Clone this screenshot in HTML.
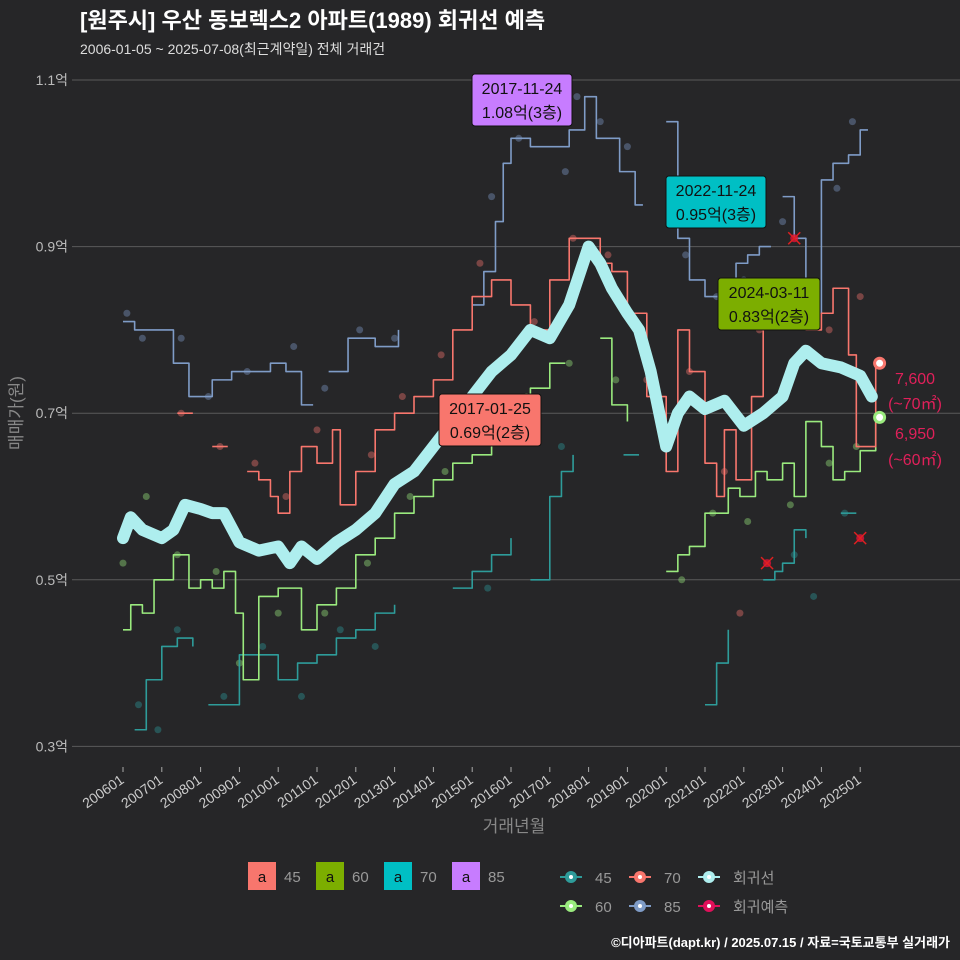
<!DOCTYPE html>
<html><head><meta charset="utf-8"><style>
body{margin:0;background:#262628;}
svg{display:block;font-family:"Liberation Sans","Noto Sans CJK KR",sans-serif;}
</style></head><body>
<svg id="c" width="960" height="960" viewBox="0 0 960 960">
<rect width="960" height="960" fill="#262628"/>
<text x="80" y="28" font-size="22" font-weight="bold" fill="#fff">[원주시] 우산 동보렉스2 아파트(1989) 회귀선 예측</text>
<text x="80" y="54" font-size="14" fill="#ddd">2006-01-05 ~ 2025-07-08(최근계약일) 전체 거래건</text>
<g id="grid"></g><g id="marks"></g><g id="ann"></g>
<text x="22" y="413" font-size="17" fill="#888" transform="rotate(-90 22 413)" text-anchor="middle">매매가(원)</text>
<text x="514" y="832" font-size="17" fill="#888" text-anchor="middle">거래년월</text>
<g id="legend"></g>
<text x="950" y="947" font-size="13" font-weight="bold" fill="#fff" text-anchor="end">©디아파트(dapt.kr) / 2025.07.15 / 자료=국토교통부 실거래가</text>
</svg>
<script>
const yTicks=[1.1,0.9,0.7,0.5,0.3];
const yTickLabels=["1.1억","0.9억","0.7억","0.5억","0.3억"];
const xTicks=[2006,2007,2008,2009,2010,2011,2012,2013,2014,2015,2016,2017,2018,2019,2020,2021,2022,2023,2024,2025];
const xTickLabels=["200601","200701","200801","200901","201001","201101","201201","201301","201401","201501","201601","201701","201801","201901","202001","202101","202201","202301","202401","202501"];
const regT=[2006.0,2006.2,2006.5,2007.0,2007.3,2007.6,2008.0,2008.3,2008.6,2009.0,2009.5,2010.0,2010.3,2010.6,2011.0,2011.5,2012.0,2012.5,2013.0,2013.5,2014.0,2014.5,2015.0,2015.5,2016.0,2016.5,2017.0,2017.5,2018.0,2018.3,2018.6,2019.0,2019.3,2019.6,2020.0,2020.3,2020.6,2021.0,2021.5,2022.0,2022.5,2023.0,2023.3,2023.6,2024.0,2024.5,2025.0,2025.3];
const regV=[0.55,0.575,0.56,0.55,0.56,0.59,0.585,0.58,0.58,0.545,0.535,0.54,0.52,0.54,0.525,0.545,0.56,0.58,0.615,0.63,0.66,0.69,0.72,0.75,0.77,0.80,0.79,0.83,0.90,0.88,0.85,0.82,0.80,0.75,0.66,0.70,0.72,0.705,0.715,0.685,0.70,0.72,0.76,0.775,0.76,0.755,0.745,0.72];
const s85=[[[2006.0,0.81],[2006.3,0.80],[2007.0,0.80],[2007.3,0.76],[2007.7,0.72],[2008.3,0.74],[2008.8,0.75],[2009.3,0.75],[2009.8,0.76],[2010.2,0.75],[2010.6,0.71],[2010.9,0.71]],[[2011.3,0.75],[2011.8,0.79],[2012.5,0.78],[2013.1,0.80]],[[2015.0,0.83],[2015.3,0.87],[2015.6,0.93],[2015.8,1.00],[2016.0,1.03],[2016.5,1.02],[2017.0,1.02],[2017.5,1.04],[2017.9,1.08],[2018.2,1.03],[2018.5,1.03],[2018.8,0.99],[2019.2,0.95],[2019.4,0.95]],[[2020.0,1.05],[2020.3,0.91],[2020.6,0.86],[2021.0,0.84],[2021.4,0.86],[2021.8,0.88],[2022.1,0.89],[2022.4,0.90],[2022.7,0.90]],[[2023.0,0.96],[2023.3,0.91],[2023.6,0.82],[2024.0,0.98],[2024.3,1.00],[2024.7,1.01],[2025.0,1.04],[2025.2,1.04]]];
const s70=[[[2007.4,0.70],[2007.8,0.70]],[[2008.3,0.66],[2008.7,0.66]],[[2009.2,0.63],[2009.5,0.62],[2009.8,0.60],[2010.0,0.58],[2010.3,0.63],[2010.6,0.66],[2011.0,0.64],[2011.4,0.68],[2011.6,0.59],[2012.0,0.63],[2012.5,0.68],[2013.0,0.70],[2013.5,0.72],[2014.0,0.74],[2014.5,0.80],[2015.0,0.84],[2015.5,0.86],[2016.0,0.83],[2016.5,0.80],[2017.0,0.86],[2017.5,0.91],[2018.0,0.91],[2018.3,0.88],[2018.6,0.87],[2019.0,0.82],[2019.5,0.72],[2020.0,0.63],[2020.3,0.80],[2020.6,0.75],[2021.0,0.64],[2021.3,0.60],[2021.5,0.68],[2021.8,0.62],[2022.2,0.72],[2022.5,0.82],[2022.8,0.85],[2023.0,0.83],[2023.3,0.85],[2023.6,0.80],[2024.0,0.82],[2024.3,0.85],[2024.5,0.85],[2024.7,0.77],[2024.9,0.66],[2025.2,0.66],[2025.4,0.76]]];
const s60=[[[2006.0,0.44],[2006.2,0.47],[2006.5,0.46],[2006.8,0.50],[2007.3,0.53],[2007.7,0.49],[2008.0,0.50],[2008.3,0.49],[2008.6,0.51],[2008.9,0.46],[2009.1,0.38],[2009.5,0.48],[2010.0,0.49],[2010.6,0.44],[2011.0,0.47],[2011.5,0.49],[2012.0,0.53],[2012.5,0.55],[2013.0,0.58],[2013.5,0.60],[2014.0,0.62],[2014.5,0.64],[2015.0,0.65],[2015.5,0.68],[2016.0,0.70],[2016.5,0.73],[2017.0,0.76],[2017.4,0.76]],[[2018.3,0.79],[2018.6,0.71],[2019.0,0.69]],[[2020.0,0.51],[2020.3,0.53],[2020.6,0.54],[2021.0,0.58],[2021.3,0.58],[2021.6,0.61],[2021.9,0.60],[2022.3,0.63],[2022.6,0.62],[2023.0,0.64],[2023.3,0.60],[2023.6,0.69],[2024.0,0.66],[2024.3,0.62],[2024.6,0.63],[2025.0,0.655],[2025.4,0.695]]];
const s45=[[[2006.3,0.32],[2006.6,0.38],[2007.0,0.42],[2007.4,0.43],[2007.8,0.42]],[[2008.2,0.35],[2008.6,0.35],[2009.0,0.41],[2009.5,0.41],[2010.0,0.38],[2010.5,0.40],[2011.0,0.41],[2011.5,0.43],[2012.0,0.44],[2012.5,0.46],[2013.0,0.47]],[[2014.5,0.49],[2015.0,0.51],[2015.5,0.53],[2016.0,0.55]],[[2016.5,0.50],[2017.0,0.60],[2017.3,0.63],[2017.6,0.65]],[[2018.9,0.65],[2019.3,0.65]],[[2021.0,0.35],[2021.3,0.40],[2021.6,0.44]],[[2022.5,0.50],[2022.8,0.51],[2023.0,0.52],[2023.3,0.56],[2023.6,0.55]],[[2024.5,0.58],[2024.9,0.58]]];
const dots85=[[2006.1,0.82],[2006.5,0.79],[2007.5,0.79],[2008.2,0.72],[2009.2,0.75],[2010.4,0.78],[2011.2,0.73],[2012.1,0.80],[2013.0,0.79],[2015.5,0.96],[2016.2,1.03],[2017.4,0.99],[2017.7,1.08],[2018.3,1.05],[2019.0,1.02],[2020.5,0.89],[2021.3,0.84],[2022.0,0.86],[2023.0,0.93],[2024.4,0.97],[2024.8,1.05]];
const dots70=[[2007.5,0.70],[2008.5,0.66],[2009.4,0.64],[2010.2,0.60],[2011.0,0.68],[2012.4,0.65],[2013.2,0.72],[2014.2,0.77],[2015.2,0.88],[2016.6,0.81],[2017.6,0.91],[2018.5,0.89],[2019.5,0.74],[2020.6,0.75],[2021.5,0.63],[2022.4,0.80],[2023.4,0.85],[2024.2,0.80],[2025.0,0.84],[2021.9,0.46]];
const dots60=[[2006.0,0.52],[2006.6,0.60],[2007.4,0.53],[2008.4,0.51],[2009.0,0.40],[2010.0,0.46],[2011.2,0.46],[2012.3,0.52],[2013.4,0.60],[2014.3,0.63],[2015.3,0.67],[2016.4,0.72],[2017.5,0.76],[2018.7,0.74],[2020.4,0.50],[2021.2,0.58],[2022.1,0.57],[2023.2,0.59],[2024.2,0.64],[2024.9,0.66]];
const dots45=[[2006.4,0.35],[2006.9,0.32],[2007.4,0.44],[2008.6,0.36],[2009.6,0.42],[2010.6,0.36],[2011.6,0.44],[2012.5,0.42],[2015.4,0.49],[2017.3,0.66],[2023.3,0.53],[2023.8,0.48],[2024.6,0.58]];
const pred=[[2022.6,0.52],[2023.3,0.91],[2025.0,0.55]];
const ends=[[2025.5,0.76,"#F8766D"],[2025.5,0.695,"#9AEA7E"]];
const X=t=>123+(t-2006)*38.8, Y=v=>80+(1.1-v)*833;
const NS="http://www.w3.org/2000/svg";
function mk(p,tag,a){const e=document.createElementNS(NS,tag);for(const k in a)e.setAttribute(k,a[k]);p.appendChild(e);return e;}
const G=document.getElementById('grid'),M=document.getElementById('marks'),A=document.getElementById('ann'),L=document.getElementById('legend');
yTicks.forEach((v,i)=>{const l=mk(G,'line',{x1:72,x2:960,y1:Y(v),y2:Y(v),stroke:'#5a5a5a','stroke-width':1});


const t=mk(G,'text',{x:68,y:Y(v)+5,'font-size':14,fill:'#bbb','text-anchor':'end'});t.textContent=yTickLabels[i];

});
xTicks.forEach((v,i)=>{const x=X(v);mk(G,'line',{x1:x,x2:x,y1:767,y2:772,stroke:'#aaa'});
const t=mk(G,'text',{x:x+2,y:782,'font-size':14,fill:'#ccc','text-anchor':'end',transform:`rotate(-35 ${x+2} 782)`});t.textContent=xTickLabels[i];

});
function dots(arr,c,n){arr.forEach(d=>{const e=mk(M,'circle',{cx:X(d[0]),cy:Y(d[1]),r:3.5,fill:c,opacity:0.4});

});}
dots(dots45,'#2E9C9A','dot-45');dots(dots60,'#9AEA7E','dot-60');dots(dots70,'#F8766D','dot-70');dots(dots85,'#7F9CC7','dot-85');
function stepPts(s){const out=[];s.forEach((p,i)=>{if(i>0)out.push(X(p[0])+','+Y(s[i-1][1]));out.push(X(p[0])+','+Y(p[1]));});return out.join(' ');}
function lines(segs,c,w,n){segs.forEach(s=>{const e=mk(M,'polyline',{points:stepPts(s),fill:'none',stroke:c,'stroke-width':w,'stroke-linejoin':'round'});

});}
lines(s45,'#2E9C9A',1.6,'line-45');lines(s85,'#7F9CC7',1.6,'line-85');lines(s60,'#9AEA7E',1.6,'line-60');lines(s70,'#F8766D',1.6,'line-70');
const rg=mk(M,'polyline',{points:regT.map((t,i)=>X(t)+','+Y(regV[i])).join(' '),fill:'none',stroke:'#AEEEEE','stroke-width':12,'stroke-linejoin':'round','stroke-linecap':'round'});


pred.forEach(p=>{const x=X(p[0]),y=Y(p[1]);const g=mk(M,'g',{});


mk(g,'circle',{cx:x,cy:y,r:4,fill:'#E0103A',opacity:0.8});mk(g,'path',{d:`M${x-6} ${y-6}L${x+6} ${y+6}M${x+6} ${y-6}L${x-6} ${y+6}`,stroke:'#E02020','stroke-width':1.5});});
ends.forEach(p=>{const e=mk(M,'circle',{cx:X(p[0]),cy:Y(p[1]),r:5,fill:'#fff',stroke:p[2],'stroke-width':3});

});
[["7,600",384],["(~70㎡)",409],["6,950",439],["(~60㎡)",465]].forEach(a=>{const t=mk(A,'text',{x:915,y:a[1],'font-size':16,fill:'#E0205A','text-anchor':'middle'});t.textContent=a[0];

});
function box(x,y,w,c,l1,l2){const g=mk(A,'g',{});


mk(g,'rect',{x:x,y:y,width:w,height:52,rx:3,fill:c,stroke:'#111'});
const a=mk(g,'text',{x:x+w/2,y:y+20,'font-size':16,fill:'#111','text-anchor':'middle'});a.textContent=l1;
const b=mk(g,'text',{x:x+w/2,y:y+44,'font-size':16,fill:'#111','text-anchor':'middle'});b.textContent=l2;}
box(472,74,100,'#C77CFF','2017-11-24','1.08억(3층)');
box(666,176,100,'#00BFC4','2022-11-24','0.95억(3층)');
box(718,278,102,'#7CAE00','2024-03-11','0.83억(2층)');
box(439,394,102,'#F8766D','2017-01-25','0.69억(2층)');
[['#F8766D','45',248],['#7CAE00','60',316],['#00BFC4','70',384],['#C77CFF','85',452]].forEach(k=>{const g=mk(L,'g',{});


mk(g,'rect',{x:k[2],y:862,width:28,height:28,fill:k[0]});
const a=mk(g,'text',{x:k[2]+14,y:882,'font-size':15,fill:'#111','text-anchor':'middle'});a.textContent='a';
const b=mk(g,'text',{x:k[2]+36,y:882,'font-size':15,fill:'#999'});b.textContent=k[1];});
[['#2E9C9A','45',571,877],['#F8766D','70',640,877],['#AEEEEE','회귀선',709,877],['#9AEA7E','60',571,906],['#7F9CC7','85',640,906],['#E0105A','회귀예측',709,906]].forEach(k=>{const g=mk(L,'g',{});


mk(g,'line',{x1:k[2]-11,x2:k[2]+11,y1:k[3],y2:k[3],stroke:k[0],'stroke-width':2});
mk(g,'circle',{cx:k[2],cy:k[3],r:6,fill:k[0]});mk(g,'circle',{cx:k[2],cy:k[3],r:2,fill:'#fff'});
const b=mk(g,'text',{x:k[2]+24,y:k[3]+6,'font-size':15,fill:'#999'});b.textContent=k[1];});
</script>
</body></html>
